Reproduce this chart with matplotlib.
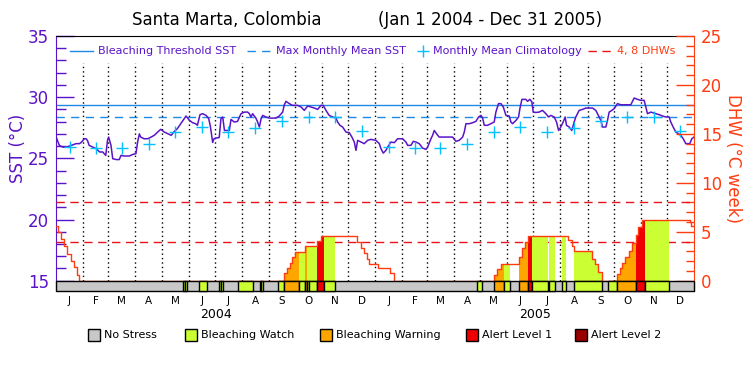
import numpy as np
import matplotlib
matplotlib.use("Agg")
import matplotlib.pyplot as plt
from matplotlib.patches import Rectangle
from matplotlib.lines import Line2D

# ---------------- data ----------------
# days since 2004-01-01
sst_day = [0, 3.8, 7.6, 11.5, 15.3, 19, 23, 26.7, 28.6, 32.5, 34.4, 36, 38, 42, 46, 50, 53.5, 57, 59, 60.3,
           63, 65, 69, 72.5, 74.5, 78, 84, 88, 91.6, 93.5, 95.5, 97, 101, 105, 109, 112.6, 116.5, 120, 124,
           128, 132, 135.5, 139, 143, 147, 149, 153, 156.5, 160, 162, 165, 168, 172, 175, 177, 179.5, 181,
           183, 187, 189, 191, 193, 198.6, 200.5, 204.3, 208, 212, 216, 219.6, 221.5, 223.4, 225.3, 229,
           231, 233, 235, 236.8, 240.6, 244.4, 252, 255.8, 259.7, 261.6, 263.5, 267.3, 271, 276.8, 280.7,
           284.5, 288.3, 292, 296, 299.8, 303.6, 306.2, 309.3, 313, 317, 320.8, 322.7, 325.3, 328.4, 332.2,
           336, 339, 341.8, 343.7, 345.6, 349.4, 353.2, 357, 360.9, 366.6, 370.4, 372.3, 375, 378, 380,
           383.8, 387.6, 391.4, 397, 401, 402.9, 406.7, 409.4, 412.4, 416.2, 420, 423.9, 425.8, 429.6,
           431.5, 433.4, 436, 439, 443, 454.4, 458.2, 462, 465.9, 467.8, 469.7, 473.5, 477.3, 481.1, 484.2,
           486.9, 488.8, 490.7, 494.5, 498.3, 502.1, 504, 507, 509.8, 512.5, 515.5, 519.3, 521.2, 523.1,
           527, 530, 531.5, 533.8, 538.4, 540.3, 543, 545.3, 546.8, 549.9, 553.6, 557.4, 561.3, 564.3, 567,
           570.8, 573.5, 575.8, 578.4, 581.1, 583.4, 584.9, 588, 591, 593.7, 595.6, 599.4, 603.3, 607,
           614.7, 618.5, 622.3, 624.3, 626.2, 630, 631.9, 633.8, 636.9, 639.5, 643.3, 647.2, 658.6, 662.4,
           666.3, 670.1, 673.9, 675.8, 677.7, 681.5, 687.3, 691, 694.9, 698.7, 702.5, 704.4, 707.1, 710.2,
           713.2, 715.9, 718.6, 721.6, 726.2, 728.5, 731]
sst_val = [26.77, 26.06, 25.92, 25.92, 26.0, 26.1, 26.2, 26.2, 26.28, 26.6, 26.6, 26.47, 26.06, 25.92, 25.79,
           25.52, 25.52, 25.24, 26.47, 26.74, 26.06, 24.97, 24.9, 24.9, 25.24, 25.19, 25.19, 25.32, 25.38,
           26.33, 27.0, 26.74, 26.6, 26.6, 26.74, 26.88, 27.15, 27.37, 27.15, 27.01, 26.88, 27.2, 27.42,
           27.83, 28.24, 28.46, 28.1, 27.91, 27.83, 27.7, 28.57, 28.65, 28.51, 28.24, 27.56, 26.3, 26.6,
           26.66, 26.7, 28.24, 28.38, 27.28, 27.28, 28.18, 27.97, 28.02, 28.65, 28.78, 28.78, 28.65, 28.38,
           28.65, 28.29, 27.97, 27.56, 28.24, 28.51, 28.38, 28.29, 28.29, 28.46, 28.78, 29.38, 29.66, 29.47,
           29.33, 29.33, 29.2, 28.92, 29.28, 29.2, 29.11, 29.0, 29.33, 29.33, 28.92, 28.51, 28.38, 28.29,
           27.97, 27.7, 27.56, 27.15, 27.1, 26.74, 26.33, 25.65, 26.47, 26.33, 26.2, 26.47, 26.55, 26.47,
           26.2, 25.79, 25.43, 25.65, 25.92, 26.33, 26.28, 26.6, 26.6, 26.33, 26.06, 26.06, 26.39, 26.33,
           26.2, 25.84, 25.73, 25.92, 26.6, 26.88, 27.28, 27.01, 26.74, 26.74, 26.74, 26.39, 26.47, 26.74,
           27.15, 27.83, 27.83, 27.91, 28.02, 28.38, 28.51, 28.29, 27.7, 27.7, 27.83, 27.97, 28.78, 29.47,
           29.47, 29.2, 28.51, 28.46, 27.97, 27.83, 28.1, 28.38, 29.06, 29.82, 29.82, 29.66, 29.82, 29.6,
           28.78, 28.75, 28.78, 28.92, 28.65, 28.38, 28.51, 28.38, 27.97, 27.28, 27.56, 27.97, 28.38, 27.7,
           27.56, 27.28, 27.97, 28.38, 28.92, 29.0, 29.11, 29.11, 28.92, 28.38, 28.1, 27.56, 27.56, 28.1,
           28.78, 28.92, 29.06, 29.47, 29.38, 29.38, 29.93, 29.82, 29.74, 29.74, 29.2, 28.65, 28.78, 28.65,
           28.57, 28.46, 28.38, 28.38, 27.97, 27.56, 27.15, 27.01, 26.88, 26.6, 26.2, 26.2, 26.6, 26.74]

clim_month = ['J', 'F', 'M', 'A', 'M', 'J', 'J', 'A', 'S', 'O', 'N', 'D']
clim_val = [25.9, 25.85, 25.85, 26.15, 27.13, 27.54, 27.13, 27.5, 28.07, 28.35, 28.35, 27.2]
mmm = 28.35
threshold = 29.33
dhw_levels = [4, 8]

dhw_day = [0, 2.7, 5.3, 9.2, 13, 16.8, 20.6, 23.7, 26.7,
           261.5, 265, 268, 270.7, 274, 285.6, 299.3, 303.6, 344.4, 349, 352.8, 355.9, 358.9, 369.2, 382.6, 387.5,
           502.1, 504.8, 509.3, 530.3, 533.4, 537.2, 541, 586.9, 590.7, 593.7, 614.3, 617.4, 620.5, 625.8,
           643, 646, 648.7, 652.5, 656.7, 660.5, 664, 667, 670.9, 726.2, 728.1, 731]
dhw_val = [5.6, 5.0, 4.3, 3.55, 2.75, 2.05, 1.35, 0.6, 0,
           0.75, 1.27, 1.78, 2.39, 2.94, 3.55, 4.03, 4.53, 4.0, 3.38, 2.8, 2.2, 1.7, 1.27, 0.75, 0,
           0.58, 1.15, 1.67, 2.45, 3.3, 4.0, 4.6, 4.17, 3.55, 3.04, 2.26, 1.73, 0.85, 0,
           0.65, 1.27, 1.78, 2.39, 3.04, 3.9, 4.68, 5.5, 6.25, 6.0, 5.6, 5.6]

# stress segments: start day, end day, level (1 watch, 2 warning, 3 alert1)
stress_start = [145.5, 147.7, 164, 187, 189.3, 209, 233.7, 235.2, 254.6, 261.5, 278.7, 285.6, 288, 290, 299.6,
                306.5, 481.9, 502.1, 513.5, 530.3, 541, 545, 564.7, 580, 593.7, 631.9, 643, 664, 674.7]
stress_end = [147.7, 149.7, 173.3, 189.3, 191.6, 226, 235.2, 236.7, 261.5, 278.7, 285.6, 288, 290, 299.6, 306.5,
              320, 488.3, 513.5, 520, 541, 545, 563.2, 571.6, 583.8, 625.8, 643, 664, 674.7, 702.6]
stress_level = [1, 1, 1, 1, 1, 1, 1, 1, 1, 2, 1, 2, 1, 1, 3,
                1, 1, 2, 1, 2, 3, 1, 1, 1, 1, 1, 2, 3, 1]

stress_names = ['No Stress', 'Bleaching Watch', 'Bleaching Warning', 'Alert Level 1', 'Alert Level 2']
stress_colors = ['#c8c8c8', '#ccff33', '#ffa500', '#ee0000', '#990000']

years = ['2004', '2005']
title_left = 'Santa Marta, Colombia'
title_right = '(Jan 1 2004 - Dec 31 2005)'

# ---------------- style ----------------
PURPLE = '#5a14c8'
BLUE = '#1e8ae6'
CYAN = '#00c0ff'
RED = '#e8141c'
ORANGE = '#ff3c10'
plt.rcParams['font.family'] = ['DejaVu Sans']

W, H = 750, 375
fig = plt.figure(figsize=(7.5, 3.75), dpi=100)
L, R, T, B = 56, 694, 36, 290.7
ax = fig.add_axes([L / W, 1 - B / H, (R - L) / W, (B - T) / H])
SST_MIN, SST_MAX = 14.18, 35
ax.set_ylim(SST_MIN, SST_MAX)
TOTAL = 731
ax.set_xlim(0, TOTAL)
ax2 = ax.twinx()
DHW_MIN = (SST_MIN - 15) * 1.25
ax2.set_ylim(DHW_MIN, (SST_MAX - 15) * 1.25)

# month positions
mstart = np.arange(np.datetime64('2004-01'), np.datetime64('2006-02'), np.timedelta64(1, 'M'))
mdays = (mstart.astype('datetime64[D]') - np.datetime64('2004-01-01')).astype(float)
mid = (mdays[:-1] + mdays[1:]) / 2

# dotted month lines
ax.vlines(mdays[1:-1], 15, 32.8, colors='black', linestyles=(0, (1, 2.2)), linewidth=1, zorder=1)

# reference lines
ax.axhline(threshold, color=BLUE, lw=1.0, zorder=2)
ax.axhline(mmm, color=BLUE, lw=1.0, dashes=(6, 4.5), zorder=2)
for lv in dhw_levels:
    ax2.axhline(lv, color=RED, lw=1.0, dashes=(6, 4), zorder=2)

# SST
ax.plot(sst_day, sst_val, color=PURPLE, lw=1.1, zorder=4)
ax.plot(mid, clim_val * 2, linestyle='none', marker='+', markersize=8.5, mew=1.0, color=CYAN, zorder=5)

# DHW fills
dd = np.array(dhw_day)
dv = np.array(dhw_val)
def dhw_at(t):
    return dv[np.clip(np.searchsorted(dd, t, side='right') - 1, 0, len(dv) - 1)]
for s, e, lvl in zip(stress_start, stress_end, stress_level):
    xs = np.concatenate([[s], dd[(dd > s) & (dd < e)], [e]])
    ax2.fill_between(xs, 0, dhw_at(xs), step='post', color=stress_colors[lvl], lw=0, zorder=2.5)
ax2.step(dhw_day, dhw_val, where='post', color=ORANGE, lw=1.0, zorder=3)

# stress bar
ax2.broken_barh([(0, TOTAL)], (DHW_MIN, -DHW_MIN), facecolors=stress_colors[0], edgecolor='black',
                linewidth=1, zorder=6, clip_on=False)
ax2.broken_barh([(s, e - s) for s, e in zip(stress_start, stress_end)], (DHW_MIN, -DHW_MIN),
                facecolors=[stress_colors[l] for l in stress_level], edgecolor='black', linewidth=1,
                zorder=6.5, clip_on=False)

# spines
for sp in ['right', 'bottom']:
    ax.spines[sp].set_visible(False)
ax.spines['left'].set_color(PURPLE)
ax.spines['left'].set_bounds(15, 35)
ax.spines['top'].set_color('black')
for sp in ['left', 'top', 'bottom']:
    ax2.spines[sp].set_visible(False)
ax2.spines['right'].set_color(ORANGE)

# y ticks
ax.set_yticks(np.arange(15, 36, 5))
ax.set_yticks(np.arange(15, 36, 1), minor=True)
ax.tick_params(axis='y', which='major', direction='in', length=13, width=1, color=PURPLE,
               labelcolor=PURPLE, labelsize=12, pad=5)
ax.tick_params(axis='y', which='minor', direction='in', length=7, width=1, color=PURPLE)
ax2.set_yticks(np.arange(0, 26, 5))
ax2.set_yticks(np.arange(0, 26, 1), minor=True)
ax2.tick_params(axis='y', which='major', direction='in', length=13, width=1, color=ORANGE,
                labelcolor=ORANGE, labelsize=12, pad=5)
ax2.tick_params(axis='y', which='minor', direction='in', length=6, width=1, color=ORANGE)

# x month labels
ax.set_xticks(mid, [clim_month[i % 12] for i in range(24)])
ax.tick_params(axis='x', which='both', length=0, labelsize=7.5, pad=4)
ax.tick_params(axis='x', which='minor', bottom=False)

for i, y in enumerate(years):
    ax.text((mdays[12 * i] + mdays[12 * i + 12]) / 2, (B - 315) / (B - T), y,
            transform=ax.get_xaxis_transform(), ha='center', va='center', fontsize=9)

# axis labels
fig.text(18 / W, 1 - 148 / H, 'SST (°C)', rotation=90, color=PURPLE, fontsize=12, ha='center', va='center')
fig.text(733 / W, 1 - 158 / H, 'DHW (°C week)', rotation=-90, color=ORANGE, fontsize=12, ha='center', va='center')

# title
fig.text(227 / W, 1 - 20 / H, title_left, fontsize=12, ha='center', va='center')
fig.text(490 / W, 1 - 20 / H, title_right, fontsize=12, ha='center', va='center')

# top legend (axes fraction)
ly = (B - 51) / (B - T)
def fx(px):
    return (px - L) / (R - L)
ax.add_line(Line2D([fx(70), fx(93)], [ly, ly], transform=ax.transAxes, color=BLUE, lw=1.0))
ax.text(fx(98), ly, 'Bleaching Threshold SST', transform=ax.transAxes, color=PURPLE, fontsize=8, va='center')
ax.add_line(Line2D([fx(247), fx(272)], [ly, ly], transform=ax.transAxes, color=BLUE, lw=1.0, dashes=(6, 4.5)))
ax.text(fx(276), ly, 'Max Monthly Mean SST', transform=ax.transAxes, color=PURPLE, fontsize=8, va='center')
ax.add_line(Line2D([fx(422.7)], [ly], transform=ax.transAxes, color=CYAN, marker='+', markersize=8.5,
                   mew=1.0, linestyle='none'))
ax.text(fx(433), ly, 'Monthly Mean Climatology', transform=ax.transAxes, color=PURPLE, fontsize=8, va='center')
ax.add_line(Line2D([fx(588), fx(613)], [ly, ly], transform=ax.transAxes, color=RED, lw=1.0, dashes=(6, 4)))
ax.text(fx(617), ly, '4, 8 DHWs', transform=ax.transAxes, color=ORANGE, fontsize=8, va='center')

# bottom legend
box_x = [88, 185, 320, 466, 575]
for bx, name, col in zip(box_x, stress_names, stress_colors):
    fig.patches.append(Rectangle((bx / W, 1 - 341 / H), 12 / W, 12 / H, transform=fig.transFigure,
                                 facecolor=col, edgecolor='black', lw=1))
    fig.text((bx + 16) / W, 1 - 335 / H, name, fontsize=8, va='center', ha='left')

fig.savefig('out.png', dpi=100)
